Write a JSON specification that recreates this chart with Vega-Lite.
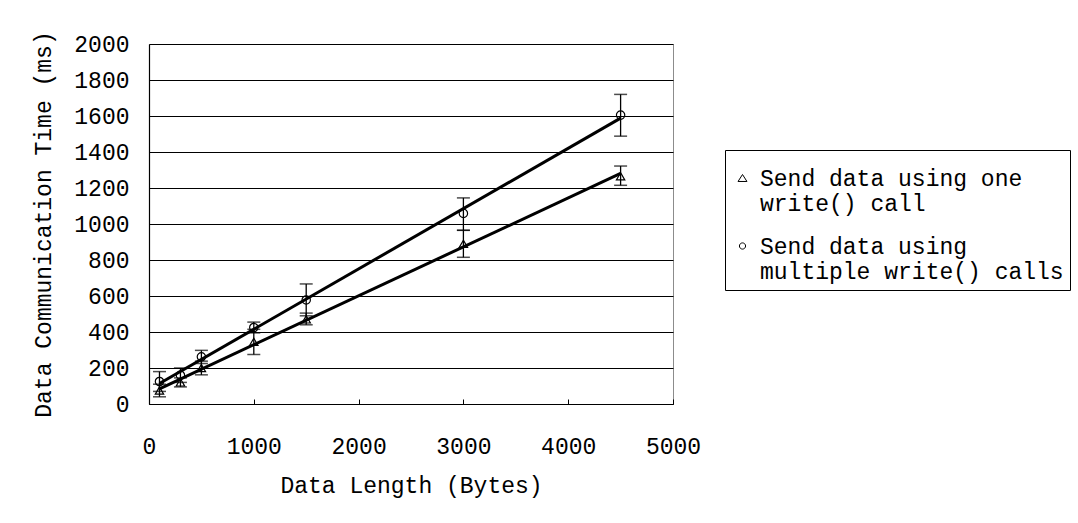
{
  "$schema": "https://vega.github.io/schema/vega-lite/v6.json",
  "width": 524,
  "height": 360,
  "autosize": {"type": "none"},
  "padding": {"left": 149, "top": 44, "right": 405, "bottom": 119},
  "background": "white",
  "config": {
    "view": {"stroke": "#8c8c8c", "strokeWidth": 1},
    "font": "Liberation Mono",
    "axis": {
      "labelFont": "Liberation Mono",
      "titleFont": "Liberation Mono",
      "labelFontSize": 23,
      "titleFontSize": 23,
      "labelColor": "black",
      "titleColor": "black",
      "titleFontWeight": "normal",
      "domainColor": "black",
      "domainWidth": 1.2,
      "gridColor": "black",
      "gridOpacity": 1,
      "gridWidth": 1.2,
      "tickColor": "black",
      "labelOverlap": false,
      "labelFlush": false,
      "format": "d"
    },
    "axisX": {"grid": false, "tickSize": -5, "labelPadding": 36, "titlePadding": 16},
    "axisY": {"grid": true, "ticks": false, "labelPadding": 20, "titlePadding": 18}
  },
  "data": {
    "values": [
      {"series": "one", "x": 100, "y": 75, "lo": 40, "hi": 110},
      {"series": "one", "x": 300, "y": 120, "lo": 95, "hi": 145},
      {"series": "one", "x": 500, "y": 200, "lo": 162, "hi": 238},
      {"series": "one", "x": 1000, "y": 345, "lo": 275, "hi": 415},
      {"series": "one", "x": 1500, "y": 470, "lo": 440, "hi": 505},
      {"series": "one", "x": 3000, "y": 890, "lo": 815, "hi": 965},
      {"series": "one", "x": 4500, "y": 1265, "lo": 1215, "hi": 1322},
      {"series": "multiple", "x": 100, "y": 125, "lo": 70, "hi": 180},
      {"series": "multiple", "x": 300, "y": 160, "lo": 120, "hi": 200},
      {"series": "multiple", "x": 500, "y": 262, "lo": 225, "hi": 298},
      {"series": "multiple", "x": 1000, "y": 425, "lo": 395, "hi": 455},
      {"series": "multiple", "x": 1500, "y": 578, "lo": 490, "hi": 667},
      {"series": "multiple", "x": 3000, "y": 1059, "lo": 965, "hi": 1145},
      {"series": "multiple", "x": 4500, "y": 1605, "lo": 1488, "hi": 1720}
    ]
  },
  "resolve": {"scale": {"shape": "independent"}, "legend": {"shape": "independent"}},
  "layer": [
    {
      "transform": [
        {"regression": "y", "on": "x", "groupby": ["series"], "extent": [100, 4500]}
      ],
      "mark": {"type": "line", "color": "black", "strokeWidth": 3},
      "encoding": {
        "x": {
          "field": "x", "type": "quantitative",
          "scale": {"domain": [0, 5000], "nice": false},
          "axis": {"values": [0, 1000, 2000, 3000, 4000, 5000], "title": "Data Length (Bytes)"}
        },
        "y": {
          "field": "y", "type": "quantitative",
          "scale": {"domain": [0, 2000], "nice": false},
          "axis": {"values": [0, 200, 400, 600, 800, 1000, 1200, 1400, 1600, 1800, 2000], "title": "Data Communication Time (ms)"}
        },
        "detail": {"field": "series"}
      }
    },
    {
      "mark": {"type": "rule", "color": "black", "strokeWidth": 1.3},
      "encoding": {
        "x": {
          "field": "x", "type": "quantitative",
          "axis": {"values": [0, 1000, 2000, 3000, 4000, 5000], "title": "Data Length (Bytes)"}
        },
        "y": {
          "field": "lo", "type": "quantitative",
          "axis": {"values": [0, 200, 400, 600, 800, 1000, 1200, 1400, 1600, 1800, 2000], "title": "Data Communication Time (ms)"}
        },
        "y2": {"field": "hi"}
      }
    },
    {
      "mark": {"type": "tick", "color": "black", "orient": "horizontal", "size": 13, "thickness": 1.5},
      "encoding": {
        "x": {
          "field": "x", "type": "quantitative",
          "axis": {"values": [0, 1000, 2000, 3000, 4000, 5000], "title": "Data Length (Bytes)"}
        },
        "y": {
          "field": "lo", "type": "quantitative",
          "axis": {"values": [0, 200, 400, 600, 800, 1000, 1200, 1400, 1600, 1800, 2000], "title": "Data Communication Time (ms)"}
        }
      }
    },
    {
      "mark": {"type": "tick", "color": "black", "orient": "horizontal", "size": 13, "thickness": 1.5},
      "encoding": {
        "x": {
          "field": "x", "type": "quantitative",
          "axis": {"values": [0, 1000, 2000, 3000, 4000, 5000], "title": "Data Length (Bytes)"}
        },
        "y": {
          "field": "hi", "type": "quantitative",
          "axis": {"values": [0, 200, 400, 600, 800, 1000, 1200, 1400, 1600, 1800, 2000], "title": "Data Communication Time (ms)"}
        }
      }
    },
    {
      "mark": {"type": "point", "filled": false, "color": "black", "size": 70, "strokeWidth": 1.2, "opacity": 1},
      "encoding": {
        "x": {
          "field": "x", "type": "quantitative",
          "axis": {"values": [0, 1000, 2000, 3000, 4000, 5000], "title": "Data Length (Bytes)"}
        },
        "y": {
          "field": "y", "type": "quantitative",
          "axis": {"values": [0, 200, 400, 600, 800, 1000, 1200, 1400, 1600, 1800, 2000], "title": "Data Communication Time (ms)"}
        },
        "shape": {
          "field": "series", "type": "nominal",
          "scale": {"domain": ["one", "multiple"], "range": ["triangle-up", "circle"]},
          "legend": null
        }
      }
    },
    {
      "transform": [{"filter": "false"}],
      "mark": {"type": "point", "filled": false, "color": "black", "strokeWidth": 1, "opacity": 1},
      "encoding": {
        "shape": {
          "field": "series", "type": "nominal",
          "scale": {
            "domain": ["one", "multiple"],
            "range": [
              "M0,1.81L1.15,3.61L-1.15,3.61Z",
              "M-0.8,2.71A0.8,0.8 0 1,0 0.8,2.71A0.8,0.8 0 1,0 -0.8,2.71Z"
            ]
          },
          "legend": {
            "title": null,
            "orient": "none",
            "legendX": 576,
            "legendY": 106,
            "strokeColor": "black",
            "fillColor": "white",
            "padding": 6,
            "labelFont": "Liberation Mono",
            "labelFontSize": 23,
            "labelColor": "black",
            "labelLimit": 400,
            "labelOffset": 6,
            "labelBaseline": "top",
            "labelExpr": "datum.value == 'one' ? ['Send data using one', 'write() call'] : ['Send data using', 'multiple write() calls']",
            "symbolSize": 60,
            "symbolStrokeColor": "black",
            "symbolFillColor": "transparent",
            "symbolStrokeWidth": 1,
            "rowPadding": 8
          }
        }
      }
    }
  ]
}
